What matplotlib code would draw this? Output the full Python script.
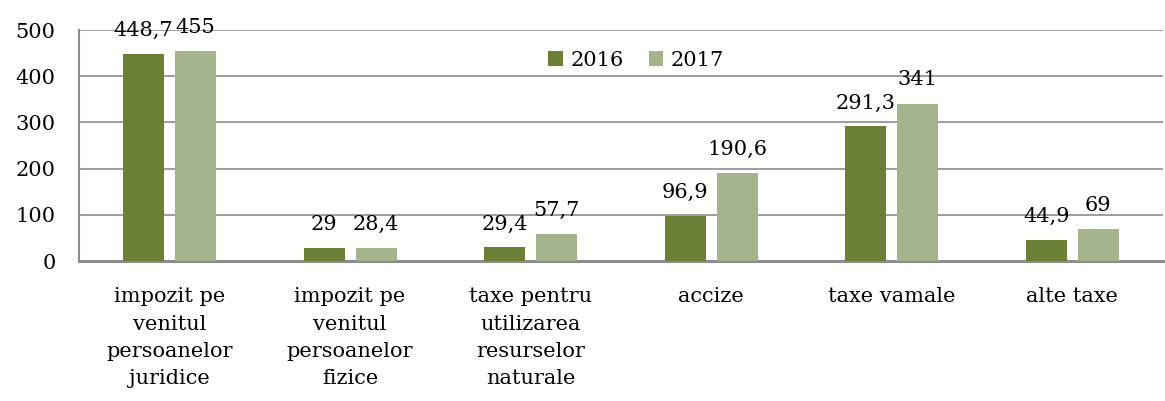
import numpy as np
import matplotlib.pyplot as plt

categories = ["impozit pe\nvenitul\npersoanelor\njuridice",
              "impozit pe\nvenitul\npersoanelor\nfizice",
              "taxe pentru\nutilizarea\nresurselor\nnaturale",
              "accize", "taxe vamale", "alte taxe"]
vals_2016 = [448.7, 29, 29.4, 96.9, 291.3, 44.9]
vals_2017 = [455, 28.4, 57.7, 190.6, 341, 69]
labels_2016 = ["448,7", "29", "29,4", "96,9", "291,3", "44,9"]
labels_2017 = ["455", "28,4", "57,7", "190,6", "341", "69"]
yticks = [0, 100, 200, 300, 400, 500]

plt.rcParams['font.family'] = ['DejaVu Serif']
fs = 15

fig = plt.figure(figsize=(11.65, 4.01), dpi=100)
ax = fig.add_axes([0.068, 0.349, 0.930, 0.576])

c16 = '#6b8035'
c17 = '#a5b38c'
grid_c = '#8c8c8c'

x = np.arange(len(categories))
w = 0.227
off = 0.144
b1 = ax.bar(x - off, vals_2016, w, color=c16, label='2016', zorder=3)
b2 = ax.bar(x + off, vals_2017, w, color=c17, label='2017', zorder=3)

for bars, labs in ((b1, labels_2016), (b2, labels_2017)):
    for r, lab in zip(bars, labs):
        ax.annotate(lab, (r.get_x() + r.get_width() / 2, r.get_height()),
                    xytext=(0, 13), textcoords='offset points',
                    ha='center', va='baseline', fontsize=fs, zorder=4,
                    annotation_clip=False)

ax.set_xlim(-0.5, len(categories) - 0.5)
ax.set_ylim(0, 500)
ax.set_yticks(yticks)
ax.set_xticks(x)
ax.set_xticklabels(categories, fontsize=fs, linespacing=1.55, va='top')
ax.tick_params(axis='y', length=0, pad=17, labelsize=fs)
ax.tick_params(axis='x', length=0, pad=19)
ax.yaxis.grid(True, color=grid_c, linewidth=1.2, zorder=0)
ax.set_axisbelow(True)

for s in ('top', 'right'):
    ax.spines[s].set_visible(False)
ax.spines['left'].set_color(grid_c)
ax.spines['left'].set_linewidth(1.5)
ax.spines['bottom'].set_color(grid_c)
ax.spines['bottom'].set_linewidth(2.2)

ax.legend(ncol=2, frameon=False, loc='center', bbox_to_anchor=(0.514, 0.87),
          fontsize=fs, handlelength=0.7, handleheight=0.7,
          handletextpad=0.35, columnspacing=1.2)

plt.savefig('out.png', dpi=100)
plt.close()
